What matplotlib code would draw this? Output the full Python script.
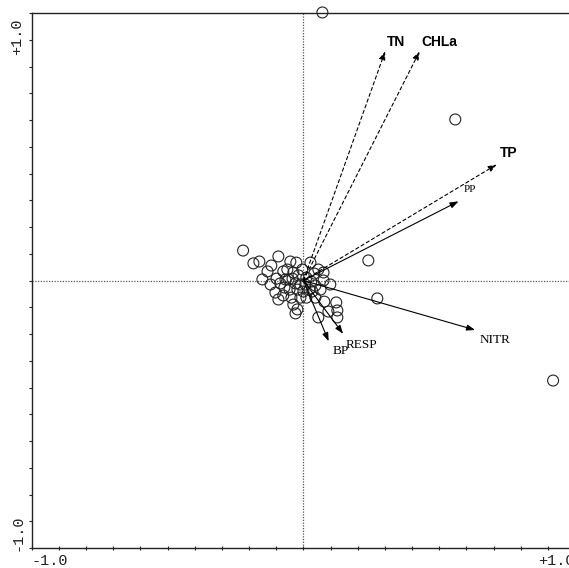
#!/usr/bin/env python3
import matplotlib
matplotlib.use("Agg")
import matplotlib.pyplot as plt
import numpy as np

# sample scores (axis 1, axis 2)
site_x = [-0.222, -0.184, -0.162, -0.132, -0.151, -0.092, -0.048, -0.026, 0.026, 0.040,
          0.074, 0.074, 0.099, 0.121, 0.033, 0.044, 0.055, 0.092, 0.125, 0.125,
          -0.037, -0.022, -0.029, -0.103, -0.092, -0.074, -0.085, -0.055, -0.051, -0.022,
          0.007, -0.011, 0.011, 0.029, 0.022, -0.121, -0.074, -0.040, -0.029, -0.018,
          -0.004, 0.011, 0.044, -0.070, -0.059, -0.118, 0.055, 0.063, -0.011, -0.066,
          -0.037, -0.099, 0.000, 0.239, 0.272, 0.070, 0.559, 0.919, 0.077, -0.044]
site_y = [0.112, 0.064, 0.071, 0.034, 0.004, 0.090, 0.071, 0.067, 0.067, 0.026,
          0.030, 0.000, -0.015, -0.082, -0.041, -0.064, -0.138, -0.116, -0.138, -0.112,
          -0.090, -0.108, -0.123, -0.045, -0.071, -0.056, -0.011, 0.004, -0.034, -0.034,
          -0.015, -0.064, -0.064, -0.004, -0.034, -0.015, 0.034, 0.007, -0.011, 0.019,
          0.041, 0.011, -0.019, -0.026, 0.041, 0.056, 0.041, -0.034, -0.015, 0.004,
          0.030, 0.007, -0.041, 0.075, -0.067, 1.002, 0.602, -0.374, -0.079, -0.064]

# environmental variables: arrow tips
env_names = ["TN", "CHLa", "TP", "PP", "NITR", "BP", "RESP"]
env_x = [0.301, 0.428, 0.712, 0.571, 0.632, 0.093, 0.146]
env_y = [0.857, 0.857, 0.434, 0.296, -0.185, -0.227, -0.199]
env_dashed = [True, True, True, False, False, False, False]

# label positions
lab_x = [0.342, 0.502, 0.755, 0.614, 0.704, 0.136, 0.215]
lab_y = [0.892, 0.892, 0.477, 0.340, -0.222, -0.264, -0.241]


def main() -> None:
    fig = plt.figure(figsize=(5.69, 5.68), dpi=100)
    ax = fig.add_axes([0.0557, 0.0352, 0.955, 0.9419])
    ax.set_xlim(-1.0, 1.0)
    ax.set_ylim(-1.0, 1.0)

    ax.spines['right'].set_visible(False)
    for s in ['left', 'bottom', 'top']:
        ax.spines[s].set_linewidth(1.0)
        ax.spines[s].set_color('#222222')

    ticks = np.round(np.arange(-1.0, 1.01, 0.1), 2)
    ax.set_xticks(ticks)
    ax.set_yticks(ticks)
    ax.set_xticklabels([])
    ax.set_yticklabels([])
    ax.tick_params(axis='x', direction='inout', length=3, width=0.8, color='#222222')
    ax.tick_params(axis='y', direction='out', length=2.5, width=0.8, color='#222222')

    # axis end labels
    mono = dict(family='Liberation Mono', fontsize=11, color='#222222', clip_on=False)
    xt = ax.get_xaxis_transform()
    ax.text(-1.0, -0.012, "-1.0", ha='left', va='top', transform=xt, **mono)
    ax.text(1.0, -0.012, "+1.0", ha='right', va='top', transform=xt, **mono)
    ax.text(-0.014, 0.99, "+1.0", ha='right', va='top', rotation=90,
            transform=ax.transAxes, **mono)
    ax.text(-0.014, -0.005, "-1.0", ha='right', va='bottom', rotation=90,
            transform=ax.transAxes, **mono)

    # centre lines
    ax.axhline(0, color='#555555', linestyle=(0, (1, 1.2)), linewidth=0.9, zorder=1)
    ax.axvline(0, color='#555555', linestyle=(0, (1, 1.2)), linewidth=0.9, zorder=1)

    # samples
    ax.scatter(site_x, site_y, s=62, facecolors='none', edgecolors='#222222',
               linewidths=0.8, zorder=3, clip_on=False)

    # environmental arrows
    for name, x, y, dashed, lx, ly in zip(env_names, env_x, env_y, env_dashed, lab_x, lab_y):
        ax.annotate("", xy=(x, y), xytext=(0, 0),
                    arrowprops=dict(arrowstyle='-|>,head_length=0.5,head_width=0.18',
                                    color='black', linewidth=0.8,
                                    linestyle=(0, (3, 2.5)) if dashed else '-',
                                    shrinkA=0, shrinkB=0),
                    zorder=4)
        if dashed:
            ax.text(lx, ly, name, ha='center', va='center', fontsize=10,
                    fontweight='bold', family='Liberation Sans', zorder=5)
        else:
            size = 8 if name == "PP" else 9.5
            ax.text(lx, ly, name, ha='center', va='center', fontsize=size,
                    family='Liberation Serif', zorder=5)

    fig.savefig("out.png", dpi=100)


if __name__ == '__main__':
    main()
